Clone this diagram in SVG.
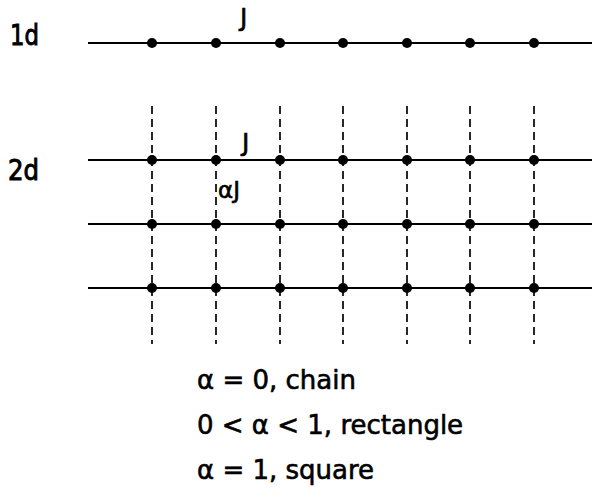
<svg xmlns="http://www.w3.org/2000/svg" width="592" height="499" viewBox="0 0 592 499">
<style>
.h{stroke:#000;stroke-width:2;fill:none}
.v{stroke:#111;stroke-width:1.8;stroke-dasharray:8,5;fill:none}
.d{fill:#000}
text{font-family:"DejaVu Sans","Liberation Sans",sans-serif;fill:#000;stroke:#000;stroke-width:0.6}
.lab{font-size:25px}
.big{font-size:28px;stroke-width:1}
.eq{font-size:26px}
</style>
<defs><circle id="dot" r="5" class="d"/></defs>
<g id="labels">
<text class="big" x="10" y="45" textLength="29" lengthAdjust="spacingAndGlyphs">1d</text>
<text class="big" x="8" y="180" textLength="31" lengthAdjust="spacingAndGlyphs">2d</text>
<text class="lab" x="240" y="26">J</text>
<text class="lab" x="242" y="151">J</text>
<text class="lab" x="218" y="198" style="font-size:23px">αJ</text>
</g>
<g id="connectors">
<line class="h" x1="88" y1="43" x2="592" y2="43"/>
<line class="h" x1="88" y1="160" x2="592" y2="160"/>
<line class="h" x1="88" y1="224" x2="592" y2="224"/>
<line class="h" x1="88" y1="288" x2="592" y2="288"/>
<line class="v" x1="152" y1="106" x2="152" y2="344"/>
<line class="v" x1="216" y1="106" x2="216" y2="344"/>
<line class="v" x1="280" y1="106" x2="280" y2="344"/>
<line class="v" x1="343" y1="106" x2="343" y2="344"/>
<line class="v" x1="407" y1="106" x2="407" y2="344"/>
<line class="v" x1="470" y1="106" x2="470" y2="344"/>
<line class="v" x1="534" y1="106" x2="534" y2="344"/>
</g>
<g id="chain">
<use href="#dot" x="152" y="43"/><use href="#dot" x="216" y="43"/><use href="#dot" x="280" y="43"/><use href="#dot" x="343" y="43"/><use href="#dot" x="407" y="43"/><use href="#dot" x="470" y="43"/><use href="#dot" x="534" y="43"/>
</g>
<g id="lattice">
<use href="#dot" x="152" y="160"/><use href="#dot" x="216" y="160"/><use href="#dot" x="280" y="160"/><use href="#dot" x="343" y="160"/><use href="#dot" x="407" y="160"/><use href="#dot" x="470" y="160"/><use href="#dot" x="534" y="160"/>
<use href="#dot" x="152" y="224"/><use href="#dot" x="216" y="224"/><use href="#dot" x="280" y="224"/><use href="#dot" x="343" y="224"/><use href="#dot" x="407" y="224"/><use href="#dot" x="470" y="224"/><use href="#dot" x="534" y="224"/>
<use href="#dot" x="152" y="288"/><use href="#dot" x="216" y="288"/><use href="#dot" x="280" y="288"/><use href="#dot" x="343" y="288"/><use href="#dot" x="407" y="288"/><use href="#dot" x="470" y="288"/><use href="#dot" x="534" y="288"/>
</g>
<g id="legend">
<text class="eq" x="197" y="389">α = 0, chain</text>
<text class="eq" x="197" y="434">0 &lt; α &lt; 1, rectangle</text>
<text class="eq" x="197" y="479">α = 1, square</text>
</g>
</svg>
